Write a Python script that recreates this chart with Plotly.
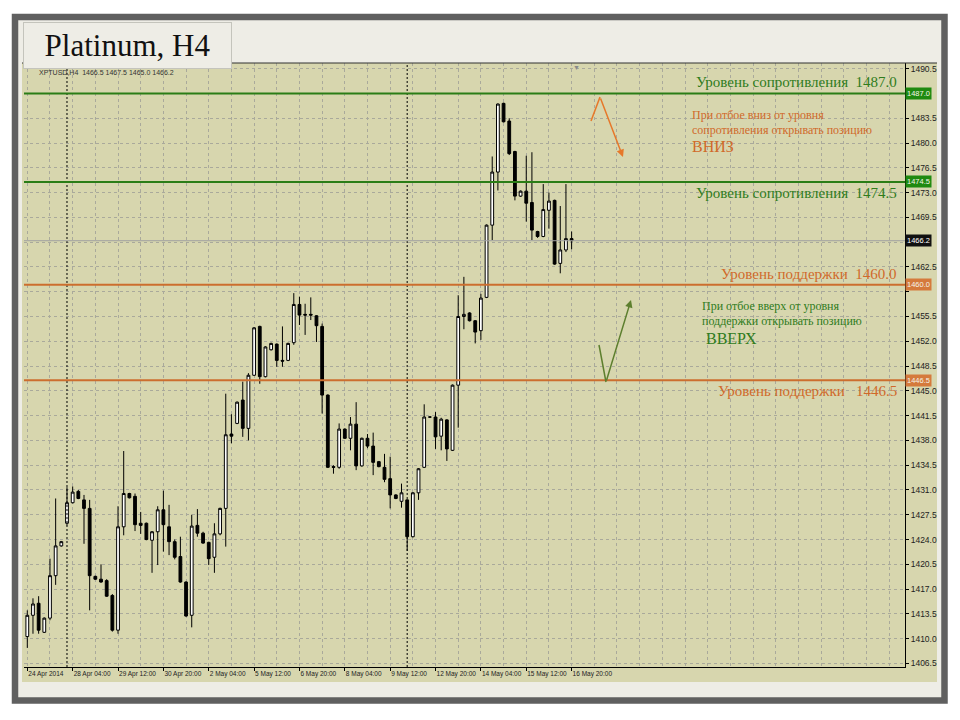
import pandas as pd
import plotly.graph_objects as go

# ---------------- data ----------------
open_p = [1410.3, 1413.3, 1415.0, 1410.9, 1412.9, 1418.9, 1423.1, 1426.3, 1429.2, 1430.8,
          1429.6, 1428.4, 1418.8, 1418.4, 1418.2, 1416.1, 1411.2, 1425.8, 1430.5, 1430.1,
          1426.3, 1426.3, 1423.9, 1425.1, 1428.2, 1425.8, 1423.7, 1421.6, 1418.0, 1413.3,
          1426.0, 1424.9, 1423.6, 1421.5, 1424.8, 1428.4, 1438.9, 1440.4, 1443.7, 1439.7,
          1447.2, 1454.1, 1447.0, 1450.8, 1451.6, 1449.3, 1449.3, 1451.8, 1457.2, 1455.8,
          1455.8, 1455.6, 1454.1, 1444.4, 1434.3, 1434.2, 1439.6, 1438.3, 1440.3, 1434.4,
          1438.3, 1437.2, 1435.0, 1434.2, 1432.6, 1430.3, 1429.4, 1429.6, 1424.4, 1430.6,
          1434.2, 1441.3, 1441.3, 1438.6, 1440.9, 1436.6, 1445.8, 1455.5, 1456.0, 1454.9,
          1453.5, 1458.2, 1468.4, 1475.9, 1485.6, 1483.1, 1478.8, 1472.5, 1473.2, 1471.6,
          1467.5, 1466.8, 1470.5, 1471.9, 1463.0, 1464.9, 1466.5]
high_p = [1414.0, 1415.7, 1416.0, 1413.0, 1421.3, 1429.8, 1423.8, 1431.4, 1431.5, 1431.0,
          1430.3, 1429.6, 1418.9, 1420.5, 1418.4, 1416.3, 1428.7, 1436.5, 1430.6, 1430.5,
          1427.9, 1426.4, 1425.2, 1428.7, 1430.9, 1428.9, 1424.0, 1424.4, 1418.1, 1427.5,
          1428.3, 1425.1, 1423.7, 1426.3, 1428.5, 1444.6, 1441.7, 1443.5, 1446.3, 1447.5,
          1454.0, 1454.2, 1451.3, 1451.8, 1451.7, 1454.1, 1451.8, 1458.8, 1458.3, 1457.3,
          1458.2, 1455.7, 1454.5, 1444.5, 1434.5, 1440.4, 1439.7, 1441.3, 1443.4, 1438.4,
          1438.9, 1439.1, 1435.1, 1436.1, 1435.7, 1430.4, 1431.9, 1429.7, 1430.7, 1434.1,
          1443.1, 1441.4, 1442.0, 1441.2, 1441.0, 1445.9, 1458.5, 1461.1, 1456.1, 1455.0,
          1458.7, 1468.5, 1478.1, 1485.6, 1485.7, 1483.5, 1478.9, 1473.3, 1478.2, 1478.7,
          1467.6, 1474.2, 1473.0, 1472.0, 1471.1, 1474.2, 1467.5]
low_p = [1408.7, 1410.7, 1410.7, 1410.8, 1412.6, 1417.6, 1423.0, 1426.0, 1429.1, 1429.7,
         1423.4, 1414.0, 1418.3, 1417.9, 1415.9, 1411.0, 1410.7, 1424.6, 1429.8, 1425.2,
         1424.8, 1423.9, 1419.3, 1420.4, 1422.3, 1421.8, 1421.2, 1417.9, 1413.1, 1411.6,
         1424.4, 1423.4, 1420.4, 1419.3, 1424.6, 1423.0, 1437.6, 1440.3, 1438.5, 1438.0,
         1447.1, 1446.0, 1446.9, 1450.7, 1448.4, 1448.4, 1449.2, 1451.5, 1454.3, 1452.9,
         1455.0, 1451.9, 1441.8, 1434.1, 1433.3, 1434.0, 1438.2, 1436.6, 1433.8, 1434.3,
         1436.9, 1433.1, 1434.2, 1432.1, 1428.4, 1429.7, 1428.5, 1422.4, 1424.3, 1429.6,
         1434.1, 1441.2, 1436.8, 1436.6, 1435.1, 1436.5, 1439.8, 1453.7, 1454.8, 1451.7,
         1452.2, 1458.1, 1466.3, 1473.3, 1482.9, 1478.3, 1471.9, 1472.4, 1468.9, 1466.3,
         1466.6, 1466.7, 1467.9, 1462.8, 1461.6, 1464.6, 1465.0]
close_p = [1413.3, 1414.9, 1411.2, 1412.9, 1418.9, 1423.1, 1423.7, 1429.2, 1430.7, 1429.8,
           1428.4, 1418.9, 1418.4, 1418.0, 1416.0, 1411.2, 1425.8, 1430.5, 1429.9, 1426.1,
           1426.0, 1424.0, 1425.1, 1428.2, 1426.1, 1423.7, 1421.5, 1418.0, 1413.2, 1425.9,
           1424.9, 1423.5, 1421.3, 1424.8, 1428.4, 1438.8, 1438.6, 1443.4, 1439.7, 1447.2,
           1453.9, 1447.0, 1451.2, 1451.7, 1449.3, 1449.2, 1451.7, 1457.2, 1455.7, 1455.7,
           1455.7, 1454.2, 1444.4, 1434.2, 1434.2, 1439.6, 1438.3, 1440.3, 1434.4, 1438.3,
           1437.2, 1434.9, 1434.3, 1432.5, 1430.3, 1429.8, 1430.6, 1424.4, 1430.6, 1434.0,
           1441.3, 1441.3, 1438.5, 1441.0, 1436.8, 1445.8, 1455.5, 1455.8, 1454.9, 1453.3,
           1458.1, 1468.4, 1475.9, 1485.5, 1483.0, 1478.5, 1472.5, 1473.2, 1471.5, 1467.7,
           1466.8, 1470.6, 1471.8, 1462.9, 1464.9, 1466.5, 1466.2]

resistance_levels = [1487.0, 1474.5]
support_levels = [1460.0, 1446.5]
separator_times = ["2014-04-28 00:00", "2014-05-12 00:00"]
price_ticks = [1406.5 + 3.5 * k for k in range(25)]

# H4 bar times (weekdays only)
times = pd.date_range("2014-04-24 20:00", "2014-05-16 20:00", freq="4h")
times = times[times.dayofweek < 5]
x = list(range(len(times)))

label_idx = list(range(0, len(times), 8))
tick_text = []
for k in label_idx:
    t = times[k]
    if k == 0:
        tick_text.append(f"{t.day} {t:%b} {t.year}")
    else:
        tick_text.append(f"{t.day} {t:%b %H:%M}")

tag_values = resistance_levels + support_levels + [close_p[-1]]
price_text = ["" if any(abs(v - tv) < 1.2 for tv in tag_values) else f"{v:.1f}"
              for v in price_ticks]

# ---------------- geometry helpers ----------------
W, H = 960, 720
L, R, T, B = 24, 905, 63, 667
XR = [-0.582, 154.8]
YR = [1406.0, 1491.3]


def pxx(v):
    return (v - L) / (R - L)


def pyy(v):
    return (B - v) / (B - T)


def dx(v):
    return XR[0] + (v - L) / (R - L) * (XR[1] - XR[0])


def dy(v):
    return YR[0] + (B - v) / (B - T) * (YR[1] - YR[0])


OLIVE = "#d7d6ae"
GRID = "#a9a99b"
GDASH = "3px,3px"
GREEN = "#2a7d16"
ORANGE = "#cc6e2e"
GREEN_T = "#2f7c1c"
ORANGE_T = "#d0692a"

fig = go.Figure(go.Candlestick(
    x=x, open=open_p, high=high_p, low=low_p, close=close_p,
    increasing=dict(line=dict(color="black", width=1), fillcolor="white"),
    decreasing=dict(line=dict(color="black", width=1), fillcolor="black"),
    whiskerwidth=0, hoverinfo="skip", showlegend=False,
))

shapes = []
# slide background + frame
shapes.append(dict(type="rect", xref="paper", yref="paper",
                   x0=pxx(15), x1=pxx(944.5), y0=pyy(17), y1=pyy(700.5),
                   fillcolor="#eeede6", line=dict(color="#606060", width=6.5), layer="below"))
# chart panel
shapes.append(dict(type="rect", xref="paper", yref="paper",
                   x0=pxx(22), x1=pxx(937), y0=pyy(63), y1=pyy(682),
                   fillcolor=OLIVE, line=dict(width=0), layer="below"))
# top edge line
shapes.append(dict(type="line", xref="paper", yref="paper",
                   x0=pxx(22), x1=pxx(937), y0=1, y1=1,
                   line=dict(color="#303030", width=1), layer="above"))
# period separators
for s in separator_times:
    idx = int(list(times).index(pd.Timestamp(s)))
    shapes.append(dict(type="line", xref="x", yref="paper", x0=idx, x1=idx, y0=0, y1=1,
                       line=dict(color="black", width=1, dash="2px,2px"), layer="above"))
# current price line
shapes.append(dict(type="line", xref="paper", yref="y", x0=0, x1=1,
                   y0=close_p[-1], y1=close_p[-1],
                   line=dict(color="#a0a0a0", width=1), layer="above"))
# level lines
for lv in resistance_levels:
    shapes.append(dict(type="line", xref="paper", yref="y", x0=0, x1=1, y0=lv, y1=lv,
                       line=dict(color=GREEN, width=2), layer="above"))
for lv in support_levels:
    shapes.append(dict(type="line", xref="paper", yref="y", x0=0, x1=1, y0=lv, y1=lv,
                       line=dict(color=ORANGE, width=2), layer="above"))
# arrow first legs
shapes.append(dict(type="line", xref="x", yref="y", x0=dx(591), y0=dy(121), x1=dx(600), y1=dy(97),
                   line=dict(color="#e6782a", width=1.5), layer="above"))
shapes.append(dict(type="line", xref="x", yref="y", x0=dx(599), y0=dy(345), x1=dx(606), y1=dy(382),
                   line=dict(color="#5d7f2e", width=1.5), layer="above"))

ann = []
serif = "Liberation Serif"
# level texts
lev_font = dict(family=serif, size=15)
ann.append(dict(xref="paper", yref="y", x=pxx(899), y=resistance_levels[0], yshift=11,
                xanchor="right", yanchor="middle", showarrow=False,
                text=f"Уровень сопротивления\u00a0\u00a0{resistance_levels[0]:.1f}",
                font=dict(lev_font, color=GREEN_T)))
ann.append(dict(xref="paper", yref="y", x=pxx(899), y=resistance_levels[1], yshift=-11,
                xanchor="right", yanchor="middle", showarrow=False,
                text=f"Уровень сопротивления\u00a0\u00a0{resistance_levels[1]:.1f}",
                font=dict(lev_font, color=GREEN_T)))
ann.append(dict(xref="paper", yref="y", x=pxx(899), y=support_levels[0], yshift=11,
                xanchor="right", yanchor="middle", showarrow=False,
                text=f"Уровень поддержки\u00a0\u00a0{support_levels[0]:.1f}",
                font=dict(lev_font, color=ORANGE_T)))
ann.append(dict(xref="paper", yref="y", x=pxx(899), y=support_levels[1], yshift=-11,
                xanchor="right", yanchor="middle", showarrow=False,
                text=f"Уровень поддержки\u00a0\u00a0\u00a0{support_levels[1]:.1f}",
                font=dict(lev_font, color=ORANGE_T)))


# hint texts
def note(px, py, text, size, color):
    ann.append(dict(xref="paper", yref="paper", x=pxx(px), y=pyy(py), xanchor="left",
                    yanchor="middle", showarrow=False, text=text,
                    font=dict(family=serif, size=size, color=color)))


note(690, 115, "При отбое вниз от уровня", 12, ORANGE_T)
note(690, 130, "сопротивления открывать позицию", 12, ORANGE_T)
note(690, 146, "ВНИЗ", 16, ORANGE_T)
note(700, 306, "При отбое вверх от уровня", 12, GREEN_T)
note(700, 321, "поддержки открывать позицию", 12, GREEN_T)
note(704, 338, "ВВЕРХ", 16, GREEN_T)

# arrows (second legs with heads)
ann.append(dict(xref="x", yref="y", axref="x", ayref="y", x=dx(623), y=dy(157),
                ax=dx(600), ay=dy(97), showarrow=True, arrowhead=2, arrowsize=1,
                arrowwidth=1.5, arrowcolor="#e6782a", text=""))
ann.append(dict(xref="x", yref="y", axref="x", ayref="y", x=dx(631), y=dy(300),
                ax=dx(606), ay=dy(382), showarrow=True, arrowhead=2, arrowsize=1,
                arrowwidth=1.5, arrowcolor="#5d7f2e", text=""))

# price tags on the axis
tag_font = dict(family="Liberation Sans", size=7.5, color="#f4f4e8")
for lv in resistance_levels:
    ann.append(dict(xref="paper", yref="y", x=1, y=lv, xanchor="left", yanchor="middle",
                    showarrow=False, text=f"{lv:.1f}", bgcolor="#1f8a10", borderpad=1,
                    font=tag_font))
for lv in support_levels:
    ann.append(dict(xref="paper", yref="y", x=1, y=lv, xanchor="left", yanchor="middle",
                    showarrow=False, text=f"{lv:.1f}", bgcolor="#d57a3c", borderpad=1,
                    font=tag_font))
ann.append(dict(xref="paper", yref="y", x=1, y=close_p[-1], xanchor="left", yanchor="middle",
                showarrow=False, text=f"{close_p[-1]:.1f}", bgcolor="#111111", borderpad=1,
                font=dict(family="Liberation Sans", size=7.5, color="white")))

# chart shift marker
ann.append(dict(xref="paper", yref="paper", x=pxx(576), y=pyy(61), showarrow=False,
                text="▼", font=dict(size=7, color="#8a8a8a")))

# MT4 header (partly hidden)
ann.append(dict(xref="paper", yref="paper", x=pxx(37), y=pyy(72), xanchor="left",
                yanchor="middle", showarrow=False,
                text=f"XPTUSD,H4  {open_p[-1]:.1f} {high_p[-1]:.1f} {low_p[-1]:.1f} {close_p[-1]:.1f}",
                font=dict(family="Liberation Sans", size=7, color="#333333")))

# Title box
ann.append(dict(xref="paper", yref="paper", x=pxx(23), y=pyy(22), xanchor="left",
                yanchor="top", showarrow=False, text="Platinum, H4",
                width=207, height=45, align="center", valign="middle",
                bgcolor="#eeede6", bordercolor="#c4c4bc", borderwidth=1, borderpad=0,
                font=dict(family=serif, size=31, color="#111111")))

fig.update_layout(
    width=W, height=H,
    margin=dict(l=L, r=W - R, t=T, b=H - B, pad=0),
    paper_bgcolor="white",
    plot_bgcolor=OLIVE,
    shapes=shapes,
    annotations=ann,
    showlegend=False,
    boxgap=0.3,
    xaxis=dict(
        type="linear", range=XR, rangeslider=dict(visible=False),
        tickmode="array", tickvals=label_idx, ticktext=tick_text, tickangle=0,
        ticks="outside", ticklen=3, tickcolor="black",
        ticklabelposition="outside right",
        tickfont=dict(family="Liberation Sans", size=6.5, color="#222222"),
        showgrid=True, gridcolor=GRID, griddash=GDASH, gridwidth=1,
        minor=dict(tickmode="linear", tick0=0, dtick=4, showgrid=True,
                   gridcolor=GRID, griddash=GDASH, gridwidth=1, ticks=""),
        showline=True, linecolor="black", linewidth=1, zeroline=False, fixedrange=True,
    ),
    yaxis=dict(
        side="right", range=YR,
        tickmode="array", tickvals=price_ticks, ticktext=price_text,
        ticks="outside", ticklen=3, tickcolor="black",
        tickfont=dict(family="Liberation Sans", size=8.5, color="#222222"),
        showgrid=True, gridcolor=GRID, griddash=GDASH, gridwidth=1,
        showline=True, linecolor="black", linewidth=1, zeroline=False, fixedrange=True,
    ),
)

fig.write_html("out.html", config={"displayModeBar": False},
               post_script="document.body.style.margin='0';")
